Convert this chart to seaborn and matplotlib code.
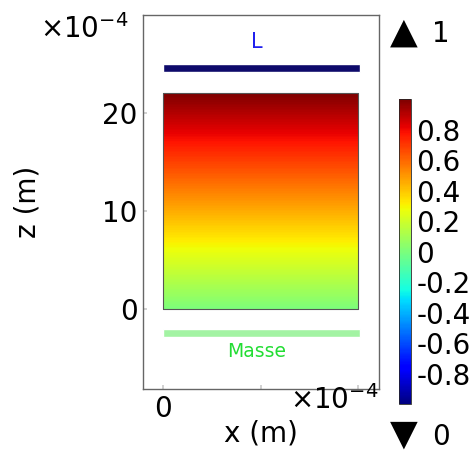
import numpy as np
import matplotlib
matplotlib.use("Agg")
import matplotlib.pyplot as plt
import seaborn as sns

# geometry in units of 1e-4 m
domain_x = [0.0, 1.0]
domain_z = [0.0, 22.0]
# potential at bottom / top edge of domain
potential = [[0.0, 0.0], [1.0, 1.0]]

bar_names = ["L", "Masse"]
bar_z = [24.6, -2.45]
bar_thick = [0.8, 0.8]
bar_width = 1.01
bar_colors = ["#0e0a6b", "#a3f3a3"]
label_colors = ["#2020ee", "#22dd33"]
label_z = [27.2, -4.3]
label_size = [15, 13.5]

xticks = [0, 0.5, 1.0]
xticklabels = ["0", "", ""]
yticks = [0, 10, 20]
cbar_ticks = [0.8, 0.6, 0.4, 0.2, 0, -0.2, -0.4, -0.6, -0.8]

sns.set_theme(style="white")
plt.rcParams['font.family'] = ['DejaVu Sans']
plt.rcParams['axes.unicode_minus'] = False
plt.rcParams['text.color'] = 'black'
plt.rcParams['xtick.color'] = 'black'
plt.rcParams['ytick.color'] = 'black'
plt.rcParams['axes.labelcolor'] = 'black'

fig = plt.figure(figsize=(4.75, 4.53), dpi=100)
ax = fig.add_axes([0.301, 0.1413, 0.497, 0.8256])

X, Z = np.meshgrid(domain_x, domain_z)
mesh = ax.contourf(X, Z, np.array(potential), levels=np.linspace(-1, 1, 257),
                   cmap="jet", vmin=-1, vmax=1, antialiased=False)
ax.plot([0, 1, 1, 0, 0], [0, 0, 22, 22, 0], color="#555555", lw=0.8)

ax.barh(bar_z, [bar_width] * 2, height=bar_thick, left=0, color=bar_colors,
        align="center")
for name, z, c, fs in zip(bar_names, label_z, label_colors, label_size):
    ax.text(0.48, z, name, color=c, fontsize=fs, ha="center", va="center")

ax.set_xlim(-0.103, 1.108)
ax.set_ylim(-8.16, 30.0)
ax.set_xticks(xticks)
ax.set_xticklabels(xticklabels)
ax.set_yticks(yticks)
ax.tick_params(labelsize=20, length=3, direction="in", color="#cccccc",
               left=True, bottom=True, pad=4)
for s in ax.spines.values():
    s.set_color("#666666")
    s.set_linewidth(1.0)

ax.set_xlabel("x (m)", fontsize=20, va="center")
ax.xaxis.set_label_coords(0.5, -0.118)
ax.set_ylabel("z (m)", fontsize=20, va="center")
ax.yaxis.set_label_coords(-0.49, 0.5)

fig.text(0.085, 0.935, r"$\times10^{-4}$", fontsize=20, va="center")
fig.text(0.61, 0.117, r"$\times10^{-4}$", fontsize=20, va="center")

cax = fig.add_axes([0.840, 0.108, 0.0253, 0.673])
sm = plt.cm.ScalarMappable(norm=plt.Normalize(-1, 1), cmap="jet")
cb = fig.colorbar(sm, cax=cax)
cb.set_ticks(cbar_ticks)
cb.set_ticklabels(["%g" % t for t in cbar_ticks])
cb.ax.tick_params(labelsize=20, length=3, direction="in", pad=4)
cb.outline.set_linewidth(0.6)

fig.text(0.851, 0.928, "\u25B2", fontsize=26, ha="center", va="center")
fig.text(0.91, 0.925, "1", fontsize=20, ha="left", va="center")
fig.text(0.851, 0.04, "\u25BC", fontsize=26, ha="center", va="center")
fig.text(0.91, 0.036, "0", fontsize=20, ha="left", va="center")

fig.savefig("out.png", dpi=100)
